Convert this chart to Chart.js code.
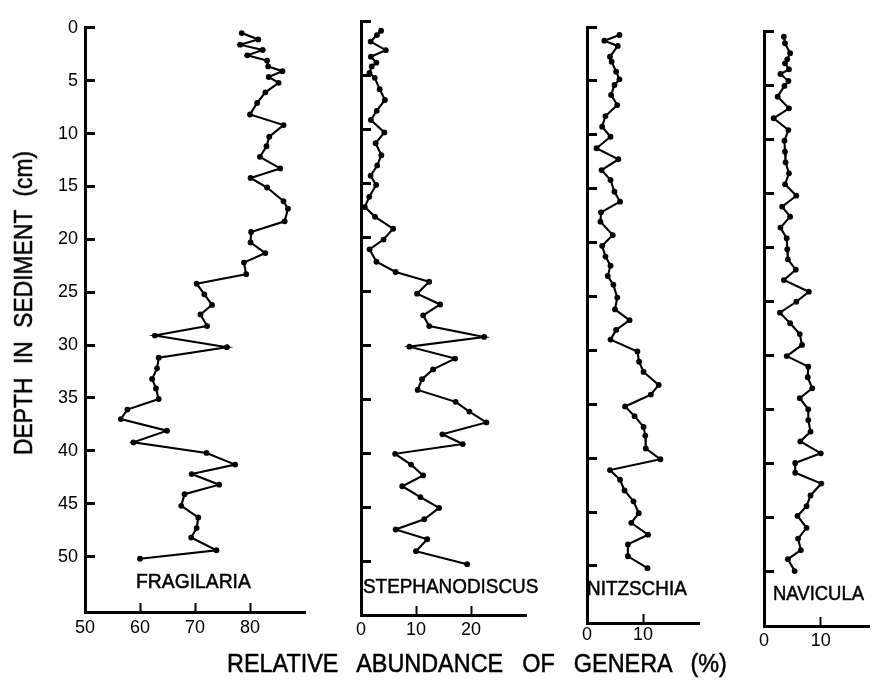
<!DOCTYPE html>
<html>
<head>
<meta charset="utf-8">
<script src="https://cdn.jsdelivr.net/npm/chart.js@4.4.1/dist/chart.umd.min.js"></script>
<style>
html, body { margin: 0; padding: 0; background: #fff; }
#wrap { position: relative; width: 872px; height: 687px; overflow: hidden; background: #fff; }
#wrap canvas { position: absolute; left: 0; top: 0; }
.txt { position: absolute; font-family: "Liberation Sans", Arial, sans-serif; color: #000; white-space: nowrap; line-height: 1; transform-origin: 0 0; -webkit-text-stroke: 0.5px #000; }
</style>
</head>
<body>
<div id="wrap">
  <canvas id="c0" width="872" height="687"></canvas>
  <canvas id="c1" width="872" height="687"></canvas>
  <canvas id="c2" width="872" height="687"></canvas>
  <canvas id="c3" width="872" height="687"></canvas>
  <div class="txt" id="n0" style="left:136px;top:570px;font-size:21px;transform:scaleX(0.92);">FRAGILARIA</div>
  <div class="txt" id="n1" style="left:363px;top:575px;font-size:21px;transform:scaleX(0.9);">STEPHANODISCUS</div>
  <div class="txt" id="n2" style="left:587px;top:577px;font-size:21px;transform:scaleX(0.9);">NITZSCHIA</div>
  <div class="txt" id="n3" style="left:773px;top:582px;font-size:21px;transform:scaleX(0.88);">NAVICULA</div>
  <div class="txt" id="xt" style="left:227px;top:650px;font-size:26px;word-spacing:14px;transform:scaleX(0.9);">RELATIVE ABUNDANCE OF GENERA (%)</div>
  <div class="txt" id="yt" style="left:23px;top:303px;font-size:26px;word-spacing:8px;transform-origin:50% 50%;transform:translate(-50%,-50%) rotate(-90deg) scaleX(0.88);">DEPTH IN SEDIMENT (cm)</div>
</div>
<script>
// ---------------- data ----------------
const genera = ["FRAGILARIA", "STEPHANODISCUS", "NITZSCHIA", "NAVICULA"];

const depthTicks = [0, 5, 10, 15, 20, 25, 30, 35, 40, 45, 50];

const fragilariaTicks = [50, 60, 70, 80];
const stephanodiscusTicks = [0, 10, 20];
const nitzschiaTicks = [0, 10];
const naviculaTicks = [0, 10];

const fragilariaDepth = [0.5,1.1,1.6,2.1,2.6,3.1,3.65,4.1,4.65,5.2,6.1,7.1,8.2,9.2,10.3,11.2,12.2,13.3,14.2,15.1,16.4,17.1,18.3,19.3,20.3,21.3,22.2,23.3,24.2,25.2,26.2,27.1,28.2,29.1,30.2,31.2,32.2,33.2,34.1,35.1,36.1,37.0,38.1,39.2,40.2,41.3,42.2,43.2,44.1,45.2,46.3,47.3,48.2,49.4,50.2];
const fragilariaPct = [78.5,81.5,78.2,82.3,79.5,83.1,83.3,85.9,83.4,85.2,82.8,81.3,80.0,86.1,83.5,83.0,81.8,85.5,80.1,83.1,86.1,86.9,86.3,80.2,80.1,82.8,78.9,79.3,70.3,71.7,73.1,71.0,72.2,62.7,75.8,63.4,63.1,62.2,62.9,63.4,57.7,56.5,64.9,58.8,72.1,77.3,69.4,74.4,68.1,67.5,70.6,70.3,69.3,73.9,60.0];

const stephanodiscusDepth = [0.9,1.3,1.9,2.7,3.3,3.85,4.2,4.8,5.25,6.3,7.3,8.3,9.15,10.3,11.3,12.4,13.35,14.3,15.15,16.25,17.2,18.1,19.2,20.2,21.1,22.25,23.2,24.1,25.2,26.2,27.2,28.2,29.2,30.1,31.2,32.2,33.1,34.1,35.2,36.1,37.1,38.2,39.1,40.0,41.0,42.0,43.0,44.0,45.0,46.05,47.0,47.9,49.0,50.2];
const stephanodiscusPct = [3.65,2.9,1.75,4.5,1.8,2.8,1.95,1.55,2.5,3.4,4.35,2.85,1.8,4.25,2.65,3.7,2.95,1.75,2.75,1.5,0.7,2.55,5.85,4.1,1.55,2.8,6.3,12.4,10.2,14.4,11.3,12.4,22.4,8.8,17.1,13.1,11.1,10.3,17.2,19.7,22.8,14.8,18.5,6.2,9.1,11.3,7.5,10.8,14.2,11.5,6.3,12.05,10.0,19.3];

const nitzschiaDepth = [0.74,1.27,1.76,2.76,3.22,4.15,4.85,5.38,6.3,7.24,8.26,9.25,10.18,11.25,12.27,13.27,14.19,15.28,16.2,17.19,18.06,19.3,20.3,21.3,22.14,23.1,23.9,25.1,26.2,27.2,28.1,29.0,30.1,31.05,32.0,33.2,34.1,35.2,36.1,37.1,37.9,39.1,40.1,41.1,42.0,43.0,44.0,45.1,46.0,47.1,48.0,49.1,50.2];
const nitzschiaPct = [5.8,3.1,5.5,4.1,4.4,5.2,5.8,4.9,4.3,5.4,3.3,2.7,4.2,1.7,5.6,2.6,4.2,4.9,5.9,2.5,2.4,4.6,2.7,3.3,4.2,3.7,4.7,5.4,5.0,7.6,5.2,4.2,9.0,9.3,10.1,12.8,11.4,6.8,8.5,10.1,10.4,10.5,13.1,4.1,5.9,6.7,8.3,9.25,7.9,10.9,7.3,7.3,10.8];

const naviculaDepth = [0.53,1.14,2.06,2.62,2.99,3.55,3.98,4.63,5.09,6.08,7.16,8.08,9.17,10.16,11.18,12.16,13.18,14.2,15.25,16.27,17.19,18.2,19.19,20.2,21.14,22.1,23.06,24.14,25.07,26.08,27.06,28.06,29.07,30.1,31.08,32.06,33.08,34.0,35.03,36.02,37.1,38.0,39.1,40.0,40.9,41.9,43.0,44.0,44.9,46.0,47.0,48.06,48.9,50.0];
const naviculaPct = [3.5,3.7,4.6,4.1,3.7,4.4,2.9,4.3,3.6,2.4,4.4,1.7,4.3,3.6,3.7,3.8,4.4,3.7,5.7,3.2,4.6,2.9,4.0,4.1,4.2,5.6,3.5,7.9,5.7,2.8,4.6,6.3,6.7,4.0,7.8,7.7,8.5,6.3,7.8,7.8,8.2,6.4,10.0,5.5,5.5,10.1,8.2,7.5,5.9,7.5,6.0,6.5,4.2,5.4];

// ---------------- layout (panel placement, not data) ----------------
const W = 872, H = 687;
const panels = [
  { canvas: "c0", depth: fragilariaDepth, pct: fragilariaPct, xTicks: fragilariaTicks,
    left: 85, right: 305, top: 22, bottom: 612, xMin: 50, xMax: 90, yMax: 55.24,
    yLabels: true, yW: 44, xPad: 14 },
  { canvas: "c1", depth: stephanodiscusDepth, pct: stephanodiscusPct, xTicks: stephanodiscusTicks,
    left: 361, right: 526, top: 21, bottom: 615, xMin: 0, xMax: 30, yMax: 54.9,
    yLabels: false, yW: 12, xPad: 13 },
  { canvas: "c2", depth: nitzschiaDepth, pct: nitzschiaPct, xTicks: nitzschiaTicks,
    left: 587, right: 699, top: 27, bottom: 623, xMin: 0, xMax: 20, yMax: 55.29,
    yLabels: false, yW: 12, xPad: 10 },
  { canvas: "c3", depth: naviculaDepth, pct: naviculaPct, xTicks: naviculaTicks,
    left: 764, right: 869, top: 31, bottom: 626, xMin: 0, xMax: 18.5, yMax: 55.09,
    yLabels: false, yW: 12, xPad: 13 }
];
const XH = 36;
const tickFont = { family: "Liberation Sans", size: 18 };

panels.forEach(function (p) {
  const pts = p.depth.map(function (d, i) { return { x: p.pct[i], y: d }; });
  new Chart(document.getElementById(p.canvas), {
    type: "scatter",
    data: {
      datasets: [{
        data: pts,
        showLine: true,
        borderColor: "#000",
        backgroundColor: "#000",
        borderWidth: 2.1,
        pointRadius: 2.9,
        pointHoverRadius: 2.9,
        pointBorderWidth: 0,
        tension: 0,
        clip: false
      }]
    },
    options: {
      responsive: false,
      animation: false,
      devicePixelRatio: 1,
      events: [],
      plugins: { legend: { display: false }, tooltip: { enabled: false }, title: { display: false } },
      layout: {
        padding: {
          left: p.left - p.yW,
          right: W - p.right,
          top: p.top,
          bottom: H - p.bottom - XH
        }
      },
      scales: {
        x: {
          type: "linear",
          position: "bottom",
          min: p.xMin,
          max: p.xMax,
          afterBuildTicks: function (s) { s.ticks = p.xTicks.map(function (v) { return { value: v }; }); },
          afterFit: function (s) { s.height = XH; },
          border: { display: true, color: "#000", width: 3 },
          grid: { display: true, drawOnChartArea: false, drawTicks: true, tickLength: -9, tickWidth: 2, tickColor: "#000" },
          ticks: { color: "#000", font: tickFont, padding: p.xPad, maxRotation: 0, autoSkip: false,
                   callback: function (v) { return String(v); } }
        },
        y: {
          type: "linear",
          position: "left",
          reverse: true,
          min: 0,
          max: p.yMax,
          afterBuildTicks: function (s) { s.ticks = depthTicks.map(function (v) { return { value: v }; }); },
          afterFit: function (s) { s.width = p.yW; },
          border: { display: true, color: "#000", width: 3 },
          grid: { display: true, drawOnChartArea: false, drawTicks: true, tickLength: -10, tickWidth: 3, tickColor: "#000" },
          ticks: { display: p.yLabels, color: "#000", font: tickFont, padding: 17, autoSkip: false,
                   callback: function (v) { return String(v); } }
        }
      }
    }
  });
});
</script>
</body>
</html>
